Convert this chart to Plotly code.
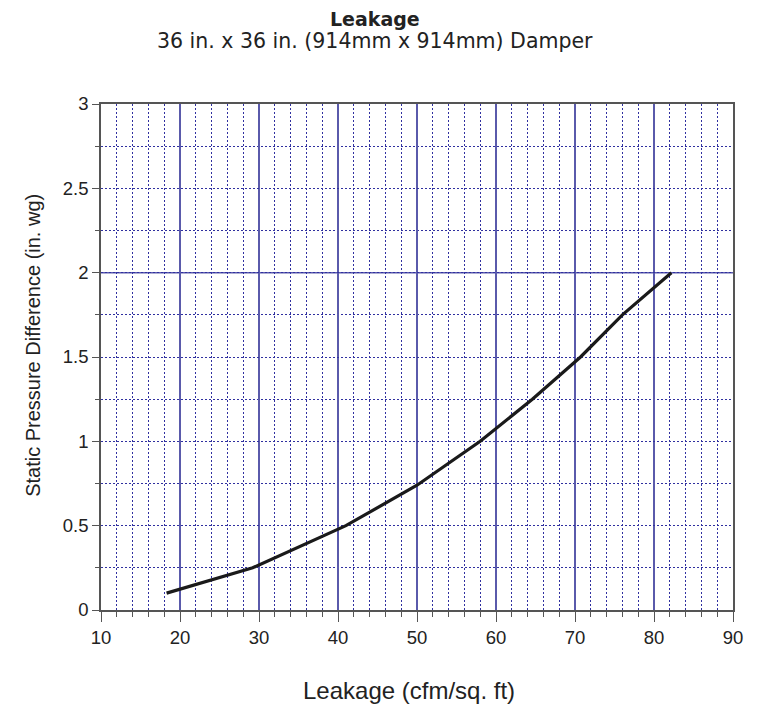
import plotly.graph_objects as go

leakage = [18.3, 29.2, 41.0, 50.0, 58.0, 64.6, 70.7, 76.0, 82.2]
pressure = [0.1, 0.25, 0.5, 0.74, 1.0, 1.25, 1.5, 1.75, 2.0]

title = "<b>Leakage</b>"
subtitle = "36 in. x 36 in. (914mm x 914mm) Damper"
x_title = "Leakage (cfm/sq. ft)"
y_title = "Static Pressure Difference (in. wg)"

fig = go.Figure()
fig.add_trace(go.Scatter(x=leakage, y=pressure, mode="lines",
                         line=dict(color="#1a1a1a", width=3.2),
                         showlegend=False, hoverinfo="skip"))

solid = "#5a5aab"
dotted = "#3030a0"
dash = "2px,2px"
axis_col = "#555555"
txt = "#222222"

fig.add_hline(y=2, line=dict(color=solid, width=1.5), layer="below")

fig.update_layout(
    width=757, height=704,
    margin=dict(l=93, r=32, t=96, b=102, autoexpand=False),
    paper_bgcolor="white", plot_bgcolor="white",
)
fig.add_annotation(text=title, xref="paper", yref="paper", x=0.433, y=1,
                   xanchor="center", yanchor="middle", yshift=85, showarrow=False,
                   font=dict(family="DejaVu Sans", size=19, color=txt))
fig.add_annotation(text=subtitle, xref="paper", yref="paper", x=0.433, y=1,
                   xanchor="center", yanchor="middle", yshift=63, showarrow=False,
                   font=dict(family="DejaVu Sans", size=20.5, color=txt))
fig.add_annotation(text=x_title, xref="paper", yref="paper", x=0.488, y=0,
                   xanchor="center", yanchor="middle", yshift=-80, showarrow=False,
                   font=dict(family="Liberation Sans", size=24, color=txt))
fig.add_annotation(text=y_title, xref="paper", yref="paper", x=0, y=0.522,
                   xanchor="center", yanchor="middle", xshift=-68, textangle=-90,
                   showarrow=False,
                   font=dict(family="Liberation Sans", size=20, color=txt))

fig.update_xaxes(
    range=[10, 90], dtick=10, tick0=10,
    showline=True, linecolor=axis_col, linewidth=1.5, mirror=True,
    ticks="outside", ticklen=10, tickcolor=axis_col, tickwidth=1.2,
    showgrid=True, gridcolor=solid, gridwidth=1.5,
    zeroline=False,
    tickfont=dict(family="Liberation Sans", size=18.5, color=txt),
    minor=dict(dtick=2, tick0=10, ticks="outside", ticklen=5, tickcolor=axis_col,
               showgrid=True, gridcolor=dotted, griddash=dash, gridwidth=1),
)
fig.update_yaxes(
    range=[0, 3], dtick=0.5, tick0=0,
    showline=True, linecolor=axis_col, linewidth=1.5, mirror=True,
    ticks="outside", ticklen=7, tickcolor=axis_col, tickwidth=1.2,
    showgrid=True, gridcolor=dotted, griddash=dash, gridwidth=1,
    zeroline=False,
    tickfont=dict(family="Liberation Sans", size=18.5, color=txt),
    minor=dict(dtick=0.25, tick0=0, ticks="outside", ticklen=4, tickcolor=axis_col,
               showgrid=True, gridcolor=dotted, griddash=dash, gridwidth=1),
)

fig.write_html("out.html")
